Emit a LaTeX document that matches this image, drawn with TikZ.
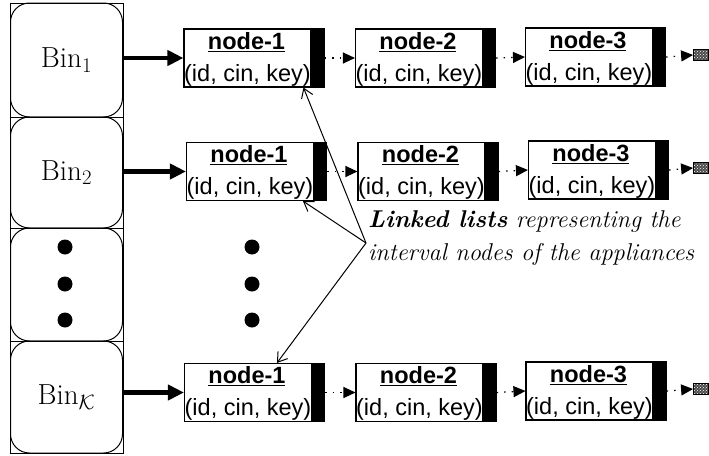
\documentclass[tikz,border=0pt]{standalone}
\usepackage{fontspec}
\newfontfamily\arialf{Liberation Sans}
\usetikzlibrary{arrows.meta,calc,patterns}
\tikzset{
  cellbox/.style={draw, line width=1pt, rounded corners=19pt, minimum width=112pt, inner sep=0pt, font=\fontsize{29}{32}\selectfont},
  lbox/.style={draw, line width=1.1pt, minimum width=140pt, minimum height=58pt, inner sep=0pt,
    path picture={\fill ([xshift=-14pt]path picture bounding box.north east) rectangle (path picture bounding box.south east);}},
  ltitle/.style={anchor=base, inner sep=0pt, font=\arialf\bfseries\fontsize{23.5}{26}\selectfont},
  lsub/.style={anchor=base west, inner sep=0pt, font=\arialf\fontsize{23.5}{26}\selectfont},
  bigarrow/.style={line width=4.5pt, -{Triangle[length=16pt,width=15pt]}},
  dotarrow/.style={line width=1.2pt, dash pattern=on 1.5pt off 6pt, -{Triangle[length=12pt,width=11pt]}},
  ptr/.style={line width=1pt, -{Straight Barb[length=9pt,width=12pt]}},
  bigdot/.style={circle, fill, inner sep=0pt, minimum size=15pt},
  endbox/.style={draw, line width=0.8pt, minimum width=15pt, minimum height=11pt, inner sep=0pt,
    preaction={fill=black!70}, pattern=crosshatch dots, pattern color=white},
}
\newcommand\mylnode[4]{%
  \node[lbox] (#1) at (#2,#3) {};
  \node[ltitle] (#1t) at ($(#1.north west)+(63,21)$) {\underline{#4}};
  \node[lsub] (#1s) at ($(#1.north west)+(0.5,53)$) {(id, cin, key)};
}
\begin{document}
\begin{tikzpicture}[x=1pt,y=-1pt]
\useasboundingbox (0,0) rectangle (709,455);
% column
\draw[line width=1pt] (10,3) rectangle (123,453);
\draw[line width=1pt] (10,117) -- (123,117) (10,228) -- (123,228) (10,341) -- (123,341);
\node[cellbox, minimum height=114pt] (bin1) at (66.5,60) {Bin$_1$};
\node[cellbox, minimum height=111pt] (bin2) at (66.5,172.5) {Bin$_2$};
\node[cellbox, minimum height=113pt] (binD) at (66.5,284.5) {};
\node[cellbox, minimum height=112pt] (binK) at (66.5,397) {Bin$_{\mathcal{K}}$};
\node[bigdot] (cd1) at (65,247) {};
\node[bigdot] (cd2) at (65,284) {};
\node[bigdot] (cd3) at (65,320) {};
\node[bigdot] (md1) at (252,247) {};
\node[bigdot] (md2) at (252,284) {};
\node[bigdot] (md3) at (252,320) {};
% lists
\mylnode{ra}{254}{58}{node-1}
\mylnode{rb}{425.5}{58}{node-2}
\mylnode{rc}{595.5}{57}{node-3}
\mylnode{sa}{256.5}{171.5}{node-1}
\mylnode{sb}{428}{171.5}{node-2}
\mylnode{sc}{598.5}{170}{node-3}
\mylnode{ta}{254.5}{392.5}{node-1}
\mylnode{tb}{426}{392.5}{node-2}
\mylnode{tc}{596}{391}{node-3}
\node[endbox] (re) at (701,55) {};
\node[endbox] (se) at (701,168) {};
\node[endbox] (te) at (701,389) {};
% arrows
\draw[bigarrow] (bin1.east |- ra.west) -- (ra.west);
\draw[bigarrow] (bin2.east |- sa.west) -- (sa.west);
\draw[bigarrow] (binK.east |- ta.west) -- (ta.west);
\draw[dotarrow] (ra.east) -- (rb.west);
\draw[dotarrow] (rb.east) -- (rc.west);
\draw[dotarrow] (rc.east) -- (re.west);
\draw[dotarrow] (sa.east) -- (sb.west);
\draw[dotarrow] (sb.east) -- (sc.west);
\draw[dotarrow] (sc.east) -- (se.west);
\draw[dotarrow] (ta.east) -- (tb.west);
\draw[dotarrow] (tb.east) -- (tc.west);
\draw[dotarrow] (tc.east) -- (te.west);
% label
\coordinate (apex) at (366,243);
\node[anchor=base west, align=left, inner sep=0pt, font=\fontsize{24.3}{33}\selectfont\itshape] (lbl) at (368,260)
  {\textbf{Linked lists} representing the\\ interval nodes of the appliances};
\draw[ptr] (apex) -- ($(ra.south west)+(120,0)$);
\draw[ptr] (apex) -- ($(sa.south west)+(117,0)$);
\draw[ptr] (apex) -- ($(ta.north west)+(93,0)$);
\end{tikzpicture}
\end{document}
